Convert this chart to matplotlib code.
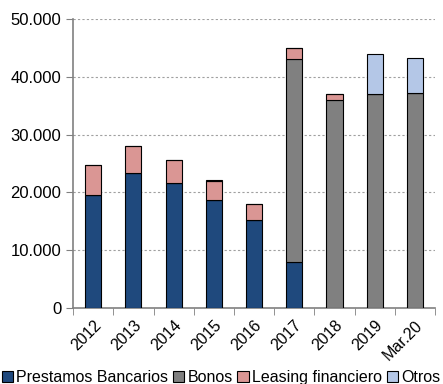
import numpy as np
import matplotlib.pyplot as plt
from matplotlib.ticker import FuncFormatter, FixedLocator

plt.rcParams['font.family'] = ['Liberation Sans', 'DejaVu Sans']

# data
categorias = ['2012', '2013', '2014', '2015', '2016', '2017', '2018', '2019', 'Mar.20']
prestamos = [19500, 23350, 21680, 18630, 15220, 8010, 0, 0, 0]
bonos = [0, 0, 0, 0, 0, 35020, 35990, 36970, 37150]
leasing = [5300, 4700, 3870, 3390, 2720, 1900, 980, 0, 0]
otros = [0, 0, 0, 180, 0, 0, 0, 6920, 6150]

colores = ['#1F497D', '#808080', '#DA9694', '#B4C7E7']
nombres = ['Prestamos Bancarios', 'Bonos', 'Leasing financiero', 'Otros']

fig = plt.figure(figsize=(4.43, 3.84), dpi=100)
ax = fig.add_axes([0.165, 0.198, 0.817, 0.752])

x = np.arange(len(categorias))
base = np.zeros(len(categorias))
for vals, col, nom in zip([prestamos, bonos, leasing, otros], colores, nombres):
    vals = np.array(vals, dtype=float)
    ax.bar(x, vals, 0.4, bottom=base, color=col, edgecolor='black',
           linewidth=0.8, label=nom, zorder=3)
    base += vals

ax.set_xlim(-0.5, len(categorias) - 0.5)
ax.set_ylim(0, 50000)
ax.set_yticks(np.arange(0, 50001, 10000))
ax.yaxis.set_major_formatter(FuncFormatter(lambda v, p: '{:,.0f}'.format(v).replace(',', '.')))
ax.grid(axis='y', color='#A0A0A0', linestyle=(0, (2, 2)), linewidth=0.8, zorder=0)

ax.set_xticks(x)
ax.set_xticklabels(categorias, rotation=45, ha='right', rotation_mode='anchor')
ax.xaxis.set_minor_locator(FixedLocator(np.arange(-0.5, len(categorias), 1.0)))
ax.tick_params(axis='x', which='major', length=0, labelsize=11.5, pad=7)
ax.tick_params(axis='x', which='minor', length=5, color='#808080', direction='out')
ax.tick_params(axis='y', length=5, color='#808080', labelsize=12)

for s in ['top', 'right']:
    ax.spines[s].set_visible(False)
for s in ['left', 'bottom']:
    ax.spines[s].set_color('#808080')
    ax.spines[s].set_linewidth(1.2)

ax.legend(loc='center left', bbox_to_anchor=(-0.197, -0.242), ncol=4, frameon=False,
          fontsize=11.5, handlelength=0.7, handleheight=0.7, handletextpad=0.2,
          columnspacing=0.3, borderaxespad=0, borderpad=0)

fig.savefig('out.png', dpi=100)
